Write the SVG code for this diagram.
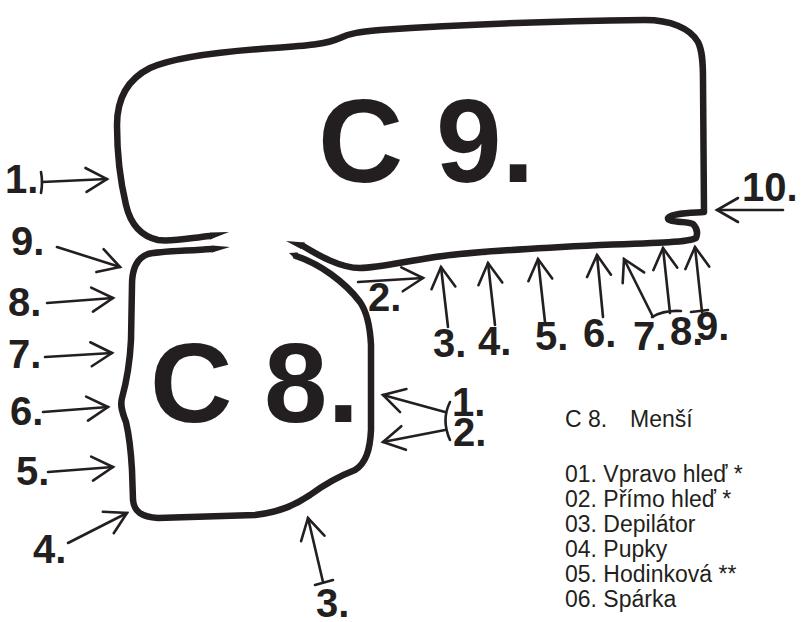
<svg xmlns="http://www.w3.org/2000/svg" width="802" height="622" viewBox="0 0 802 622">
<defs>
<style>
.outline{fill:none;stroke:#231f20;stroke-width:6.5;stroke-linecap:round;stroke-linejoin:round}
.tip{fill:#231f20}
.arr{fill:none;stroke:#231f20;stroke-width:2.6;stroke-linecap:round;marker-end:url(#head)}
.tick{fill:none;stroke:#231f20;stroke-width:2.6;stroke-linecap:round}
.big{font-family:"Liberation Sans",Arial,sans-serif;font-weight:bold;fill:#231f20}
.lbl{font-family:"Liberation Sans",Arial,sans-serif;font-weight:bold;font-size:40px;fill:#231f20}
.leg{font-family:"Liberation Sans",Arial,sans-serif;font-size:23px;fill:#231f20}
</style>
<marker id="head" viewBox="-24 -15 28 30" refX="0" refY="0" markerWidth="28" markerHeight="30" markerUnits="userSpaceOnUse" orient="auto" overflow="visible">
<path d="M-21,-12 L0,0 L-21,12" fill="none" stroke="#231f20" stroke-width="2.6" stroke-linecap="round" stroke-linejoin="miter"/>
</marker>
</defs>
<rect width="802" height="622" fill="#ffffff"/>

<g id="c9">
<path class="outline" d="M 210,236 C 190,238 172,242 158,240 C 140,236 130,222 126,205 C 120,180 117,150 117,125 C 117,95 130,78 150,68 C 175,57 220,52 260,49 C 300,46 325,45 340,38 C 350,33 360,32 380,30 C 450,25 560,21 645,20 C 670,20 690,28 698,42 C 702,50 703,60 703,80 L 704,212 C 690,213 672,213 668,218 C 667,223 688,221 693,224 C 697,228 698,233 696,238 C 690,242 660,243 600,245 C 540,248 480,251 443,256 C 410,260 380,268 360,268 C 340,268 318,255 303,246"/>
<polygon class="tip" points="210,232.5 229,232 210,239.5"/>
<polygon class="tip" points="305,242.5 286,241 301,249"/>
<text class="big" x="318" y="182" font-size="118">C 9.</text>
</g>

<g id="c8">
<path class="outline" d="M 212,249 C 185,251 160,251 148,254 C 137,258 132,268 132,285 L 131,340 C 130,360 127,380 122,398 C 120,405 122,412 126,422 C 129,435 131,452 132,470 L 133,500 C 134,512 142,517 158,518 L 255,515 C 280,512 295,505 310,495 C 325,484 342,475 355,470 C 366,463 370,450 371,430 L 371,345 C 370,325 367,312 360,302 C 345,282 320,264 296,256"/>
<polygon class="tip" points="212,245.5 230,247 212,252.5"/>
<polygon class="tip" points="298,252.5 289,253 296,259.5"/>
<text class="big" x="150" y="422" font-size="114">C 8.</text>
</g>

<g id="connectors">
<path class="arr" d="M42,182 L107,179"/>
<path class="tick" d="M41,172 Q43,182 41,193"/>
<path class="arr" d="M57,247 L120,267"/>
<path class="arr" d="M47,303 L113,298"/>
<path class="arr" d="M45,357 L112,353"/>
<path class="arr" d="M43,412 L108,407"/>
<path class="arr" d="M48,472 L113,467"/>
<path class="arr" d="M68,543 L127,513"/>
<path class="arr" d="M358,282 L423,278"/>
<path class="arr" d="M448,327 L441,267"/>
<path class="arr" d="M495,325 L488,263"/>
<path class="arr" d="M545,322 L538,259"/>
<path class="arr" d="M603,317 L597,255"/>
<path class="arr" d="M653,317 L624,259"/>
<path class="arr" d="M670,313 L663,248"/>
<path class="arr" d="M702,312 L695,247"/>
<path class="tick" d="M652,317 Q664,310 681,311"/>
<path class="tick" d="M691,312 L708,310"/>
<path class="arr" d="M783,210 L717,210"/>
<path class="arr" d="M445,412 L383,395"/>
<path class="arr" d="M445,430 L383,442"/>
<path class="tick" d="M450,402 Q441,420 450,440"/>
<path class="arr" d="M323,582 L308,518"/>
<path class="tick" d="M315,585 L333,580"/>
</g>

<g id="labels">
<text class="lbl" x="5" y="193">1.</text>
<text class="lbl" x="11" y="255">9.</text>
<text class="lbl" x="8" y="316">8.</text>
<text class="lbl" x="8" y="368">7.</text>
<text class="lbl" x="10" y="425">6.</text>
<text class="lbl" x="16" y="485">5.</text>
<text class="lbl" x="33" y="563">4.</text>
<text class="lbl" x="368" y="311">2.</text>
<text class="lbl" x="433" y="357">3.</text>
<text class="lbl" x="478" y="355">4.</text>
<text class="lbl" x="535" y="350">5.</text>
<text class="lbl" x="583" y="347">6.</text>
<text class="lbl" x="633" y="350">7.</text>
<text class="lbl" x="670" y="345">8.</text>
<text class="lbl" x="696" y="340">9.</text>
<text class="lbl" x="742" y="201">10.</text>
<text class="lbl" x="452" y="416">1.</text>
<text class="lbl" x="453" y="446">2.</text>
<text class="lbl" x="316" y="617">3.</text>
</g>

<g id="legend">
<text class="leg" x="565" y="427">C 8.<tspan x="630">Menší</tspan></text>
<text class="leg" x="565" y="482">01. Vpravo hleď *</text>
<text class="leg" x="565" y="507">02. Přímo hleď *</text>
<text class="leg" x="565" y="532">03. Depilátor</text>
<text class="leg" x="565" y="557">04. Pupky</text>
<text class="leg" x="565" y="582">05. Hodinková **</text>
<text class="leg" x="565" y="607">06. Spárka</text>
</g>
</svg>
